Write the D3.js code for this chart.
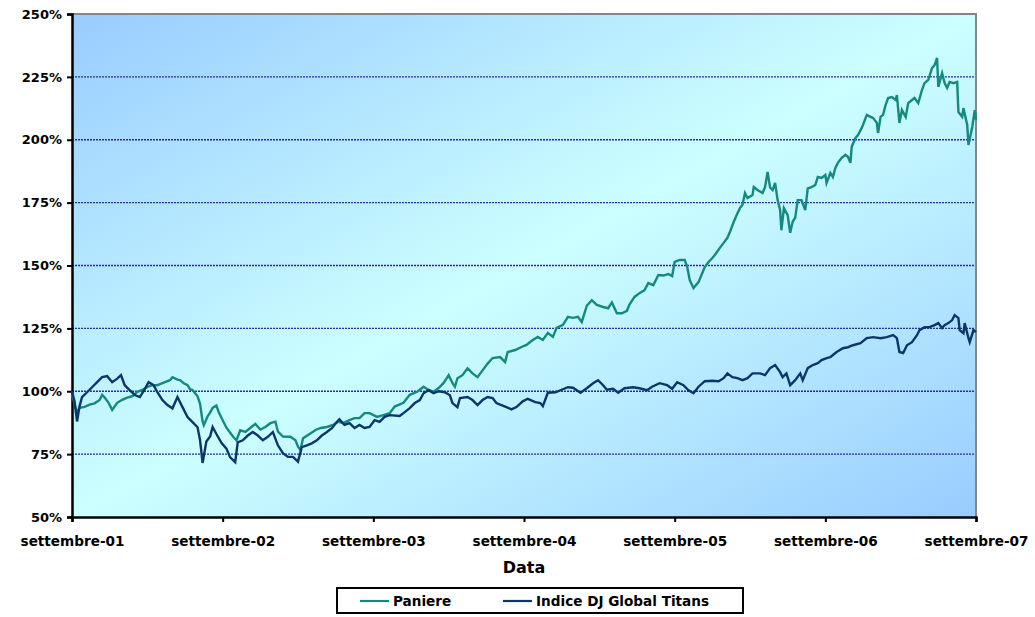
<!DOCTYPE html>
<html>
<head>
<meta charset="utf-8">
<script src="https://cdn.jsdelivr.net/npm/d3@7"></script>
<style>
  html, body { margin: 0; padding: 0; background: #ffffff; }
  svg text { font-family: "DejaVu Sans", Verdana, sans-serif; font-weight: bold; fill: #000; }
</style>
</head>
<body>
<svg id="chart" width="1035" height="617"></svg>
<script>
// Axis labels (x values are months elapsed since settembre 2001)
const xTickMonths = [0, 12, 24, 36, 48, 60, 72];
const xTickLabels = ["settembre-01", "settembre-02", "settembre-03", "settembre-04",
                     "settembre-05", "settembre-06", "settembre-07"];
const yTicks = [50, 75, 100, 125, 150, 175, 200, 225, 250];
const seriesNames = ["Paniere", "Indice DJ Global Titans"];

// Paniere: [month, value %]
const paniere = [[0,99],[0.2,95],[0.4,91.5],[0.6,93.4],[1.0,93.8],[1.4,94.7],[1.8,95.2],[2.2,96.5],[2.4,98.6],[2.6,97.5],[2.9,95.5],[3.2,92.6],[3.6,95.4],[4.0,96.6],[4.4,97.5],[4.8,98],[5.2,99.8],[5.6,100.5],[6.0,101.7],[6.4,102.4],[6.8,102.4],[7.4,103.6],[7.8,104.4],[8.0,105.6],[8.4,104.6],[8.6,104.4],[8.9,103.2],[9.2,102.4],[9.4,100.8],[9.6,100.5],[10.0,98],[10.2,95],[10.4,88],[10.5,86.5],[10.8,90],[11.0,91.5],[11.2,93.4],[11.5,94.3],[11.7,91.5],[12.0,88.5],[12.3,85.5],[12.6,83.5],[12.9,81.5],[13.1,80.5],[13.4,84.5],[13.8,83.8],[14.2,85.4],[14.6,87],[15.0,84.8],[15.4,85.8],[15.8,87.3],[16.2,87.9],[16.4,84],[16.8,82],[17.4,81.9],[17.8,80.5],[18.0,78],[18.2,76.6],[18.4,81.3],[18.8,82.6],[19.4,84.6],[19.8,85.4],[20.3,85.8],[20.8,86.6],[21.2,87.9],[21.6,87.3],[22.1,88.5],[22.5,89.3],[22.9,89.3],[23.3,91.3],[23.7,91.3],[24.3,89.8],[24.8,90.5],[25.3,91.3],[25.7,93.9],[26.4,95.4],[26.9,98.6],[27.5,99.8],[28.0,101.8],[28.4,100.5],[28.8,99.8],[29.2,101.3],[29.6,103.3],[30.0,106.4],[30.3,103.3],[30.5,101.8],[30.7,105.2],[31.1,106.4],[31.5,109.1],[31.9,107.1],[32.3,105.6],[32.7,108.3],[33.1,111],[33.5,113.2],[34.1,113.6],[34.5,111.6],[34.7,115.6],[35.3,116.4],[35.8,117.6],[36.2,118.4],[36.7,120.4],[37.1,121.6],[37.5,120.4],[37.9,123.2],[38.3,121.6],[38.6,125.2],[39.1,126.4],[39.5,129.6],[39.9,129.2],[40.3,129.6],[40.6,127.5],[41.0,134],[41.4,136.2],[41.8,134.3],[42.3,133.5],[42.7,133],[43.0,135.3],[43.4,131],[43.8,131],[44.2,132],[44.4,134.5],[44.8,137.5],[45.2,139],[45.6,140.2],[45.9,143],[46.3,142.2],[46.7,146.2],[47.1,146],[47.5,146.6],[47.8,145.8],[48.0,151.4],[48.4,152.2],[48.8,152.2],[49.0,149.4],[49.2,144.2],[49.5,141],[49.9,143.4],[50.2,147],[50.4,149.4],[50.7,151.4],[51.0,153],[51.2,154.2],[51.6,157],[51.9,159],[52.2,161],[52.4,163.3],[52.7,167.3],[53.0,170.8],[53.2,172.8],[53.4,174.2],[53.6,178.8],[53.8,176.8],[54.2,178],[54.3,181.2],[54.6,180],[55.0,178.8],[55.2,181.2],[55.4,187.2],[55.6,181],[55.8,180],[56.0,182.8],[56.2,176],[56.4,172],[56.5,164],[56.7,172.8],[57.0,170],[57.2,163],[57.4,167.4],[57.6,169],[57.8,176],[58.1,176],[58.4,172],[58.6,180.7],[58.9,181.2],[59.2,182],[59.4,185.2],[59.7,184.8],[60.0,186],[60.1,182.8],[60.4,186.8],[60.6,185.2],[60.8,188.8],[61.0,190.8],[61.3,192.8],[61.6,194],[61.8,193.2],[62.0,190.8],[62.1,197.2],[62.4,200.7],[62.6,201.9],[62.9,204.7],[63.0,205.9],[63.3,209.9],[63.6,209.1],[63.8,208.7],[64.1,206.7],[64.2,202.7],[64.4,209.1],[64.6,209.9],[64.8,213.8],[65.0,216.6],[65.3,217],[65.6,215.8],[65.7,217.8],[65.9,206.7],[66.1,211.8],[66.4,209.1],[66.6,214.6],[66.9,215.8],[67.1,216.6],[67.4,214.6],[67.7,219.8],[67.9,222.5],[68.2,223.8],[68.5,228.5],[68.7,229.7],[68.9,232.5],[69.0,221],[69.3,226.5],[69.5,222.5],[69.7,220.6],[69.9,223],[70.2,222.5],[70.5,223],[70.6,211],[70.9,209.1],[71.0,212.6],[71.3,205.9],[71.4,197.9],[71.7,205.1],[71.9,211.8],[72.0,208]];

// Indice DJ Global Titans: [month, value %]
const djTitans = [[0,100],[0.2,96],[0.4,88],[0.6,94],[0.8,97.7],[1.2,99.6],[1.6,101.6],[2.0,103.6],[2.4,105.6],[2.8,106],[3.2,103.6],[3.6,105],[3.9,106.4],[4.2,102.4],[4.6,100.4],[5.0,98.5],[5.4,97.7],[5.7,100],[6.1,103.6],[6.5,102.4],[6.8,99.6],[7.2,96.5],[7.6,94.5],[8.0,93.2],[8.4,97.7],[8.8,93.7],[9.2,89.7],[9.6,87.7],[10.0,85.7],[10.2,80.5],[10.4,71.5],[10.7,80],[11.0,82],[11.2,85.8],[11.5,83],[11.9,79.5],[12.3,77.2],[12.6,73.7],[13.0,71.8],[13.2,79.7],[13.6,80.5],[14.0,82.4],[14.4,83.8],[14.8,82.4],[15.2,80.5],[15.6,81.9],[16.0,83.8],[16.4,78.5],[16.8,75.4],[17.2,73.9],[17.6,73.9],[18.0,72],[18.3,77.8],[18.7,78.5],[19.1,79.3],[19.5,80.5],[19.9,82.4],[20.3,83.8],[20.7,85.3],[21.1,87.9],[21.3,88.9],[21.7,86.6],[22.1,87.3],[22.5,85.4],[22.9,86.6],[23.3,85.4],[23.7,85.8],[24.1,88.5],[24.5,87.8],[24.9,89.8],[25.3,90.5],[26.1,90.2],[26.5,91.7],[26.9,93.3],[27.3,95.3],[27.7,96.5],[28.0,99.2],[28.4,100.4],[28.8,99.2],[29.2,100],[29.7,99.6],[30.1,98.4],[30.3,95.3],[30.7,93.7],[30.9,97.3],[31.5,97.7],[31.9,96.5],[32.3,94.5],[32.7,96.5],[33.1,97.7],[33.5,97.3],[33.8,95.3],[34.2,94.5],[34.6,93.7],[35.0,92.8],[35.4,93.7],[35.9,96],[36.3,97],[36.9,95.7],[37.3,95.3],[37.5,94.1],[37.9,99.4],[38.5,99.6],[39.0,100.6],[39.5,101.6],[39.9,101.4],[40.5,99.4],[41.0,101.2],[41.5,103.2],[41.9,104.4],[42.3,102.4],[42.6,100.6],[43.1,101],[43.5,99.4],[44.0,101.2],[44.7,101.6],[45.2,101.2],[45.8,100.4],[46.2,101.8],[46.8,103.2],[47.4,102.4],[47.8,101],[48.2,103.6],[48.7,102.4],[49.1,100.4],[49.5,99.2],[49.9,101.8],[50.4,104],[51.0,104.2],[51.5,104],[51.9,105.2],[52.2,107.1],[52.6,105.6],[53.0,105.2],[53.4,104.4],[53.8,105.2],[54.2,107.1],[54.8,107.1],[55.2,106.4],[55.6,109.2],[56.0,110.4],[56.4,107.6],[56.6,105.6],[56.9,107.1],[57.2,102.4],[57.6,104.4],[58.0,107.1],[58.2,104.4],[58.6,109.2],[59.0,110.4],[59.4,111.2],[59.7,112.4],[60.1,113.2],[60.4,113.6],[60.9,115.6],[61.4,117.1],[61.8,117.5],[62.2,118.3],[62.8,119.1],[63.3,121.1],[63.8,121.5],[64.4,121.1],[64.9,121.5],[65.4,122.3],[65.7,121.1],[65.9,115.6],[66.2,115.2],[66.5,118.3],[66.9,119.5],[67.3,122.3],[67.5,124.3],[67.9,125.5],[68.3,125.5],[68.7,126.3],[69.0,127.1],[69.3,125.1],[69.5,126.3],[69.8,127.1],[70.1,128.3],[70.3,130.3],[70.6,129.1],[70.7,124.3],[71.0,123.1],[71.1,127.1],[71.4,121.1],[71.5,119.5],[71.8,124.3],[72.0,123.5]];

const seriesColors = ["#14897f", "#0d3668"];

const svg = d3.select("#chart");
const plot = { left: 72, top: 14, right: 976, bottom: 517 };

const x = d3.scaleLinear().domain([0, 72]).range([plot.left, plot.right]);
const y = d3.scaleLinear().domain([50, 250]).range([plot.bottom, plot.top]);

// Diagonal background gradient of the plotting area
const defs = svg.append("defs");
const grad = defs.append("linearGradient")
  .attr("id", "plotBg").attr("x1", 0).attr("y1", 0).attr("x2", 1).attr("y2", 1);
grad.append("stop").attr("offset", "0%").attr("stop-color", "#99ccff");
grad.append("stop").attr("offset", "50%").attr("stop-color", "#ccffff");
grad.append("stop").attr("offset", "100%").attr("stop-color", "#99ccff");

svg.append("rect")
  .attr("x", plot.left).attr("y", plot.top)
  .attr("width", plot.right - plot.left).attr("height", plot.bottom - plot.top)
  .attr("fill", "url(#plotBg)");

// Horizontal dashed gridlines
svg.append("g")
  .selectAll("line")
  .data(yTicks.filter(t => t > 50 && t < 250))
  .join("line")
  .attr("x1", plot.left).attr("x2", plot.right)
  .attr("y1", d => y(d)).attr("y2", d => y(d))
  .attr("stroke", "#2b2b9c").attr("stroke-width", 1.3)
  .attr("stroke-dasharray", "2,1");

// Top and right frame
svg.append("path")
  .attr("d", `M${plot.left},${y(250)}H${x(72)}V${plot.bottom}`)
  .attr("fill", "none").attr("stroke", "#868686").attr("stroke-width", 2);

const axisFont = sel => sel
  .style("font-family", "DejaVu Sans, Verdana, sans-serif")
  .style("font-weight", "bold");

// Y axis
const yAxis = d3.axisLeft(y).tickValues(yTicks).tickSize(5).tickPadding(5)
  .tickFormat(d => d + "%");
const gy = svg.append("g").attr("transform", `translate(${plot.left},0)`).call(yAxis);
gy.select(".domain").attr("stroke", "#000").attr("stroke-width", 2.5);
gy.selectAll(".tick line").attr("stroke", "#000").attr("stroke-width", 2);
gy.selectAll(".tick text").style("font-size", "13px").call(axisFont);

// X axis
const xAxis = d3.axisBottom(x).tickValues(xTickMonths).tickSize(5).tickPadding(14)
  .tickFormat((d, i) => xTickLabels[i]);
const gx = svg.append("g").attr("transform", `translate(0,${plot.bottom})`).call(xAxis);
gx.select(".domain").attr("stroke", "#000").attr("stroke-width", 2.5);
gx.selectAll(".tick line").attr("stroke", "#000").attr("stroke-width", 2);
gx.selectAll(".tick text").style("font-size", "13.6px").call(axisFont);

// Series lines
const line = d3.line().x(d => x(d[0])).y(d => y(d[1]));
[paniere, djTitans].forEach((s, i) => {
  svg.append("path")
    .datum(s)
    .attr("d", line)
    .attr("fill", "none")
    .attr("stroke", seriesColors[i])
    .attr("stroke-width", 2.4)
    .attr("stroke-linejoin", "miter");
});

// Axis title
svg.append("text")
  .attr("x", (plot.left + plot.right) / 2).attr("y", 573)
  .attr("text-anchor", "middle").style("font-size", "16px")
  .text("Data");

// Legend
const legend = svg.append("g");
legend.append("rect")
  .attr("x", 337).attr("y", 588).attr("width", 406).attr("height", 25)
  .attr("fill", "#fff").attr("stroke", "#000").attr("stroke-width", 2);
const legendItems = [{ x: 360 }, { x: 503 }];
legendItems.forEach((it, i) => {
  legend.append("line")
    .attr("x1", it.x).attr("x2", it.x + 29).attr("y1", 601).attr("y2", 601)
    .attr("stroke", seriesColors[i]).attr("stroke-width", 2.2);
  legend.append("text")
    .attr("x", it.x + 33).attr("y", 606)
    .style("font-size", "13.6px")
    .text(seriesNames[i]);
});
</script>
</body>
</html>
